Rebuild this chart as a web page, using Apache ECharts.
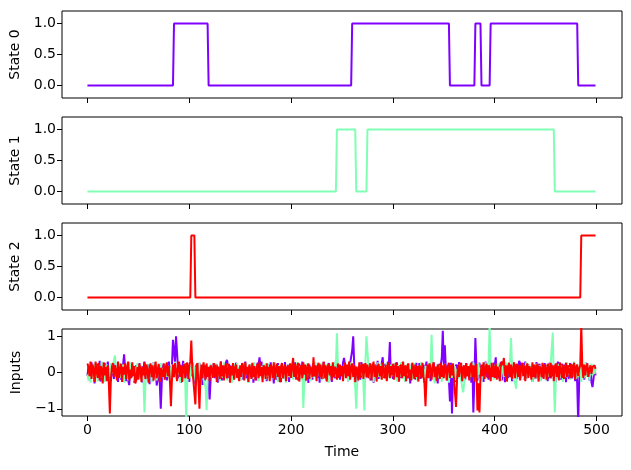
<!DOCTYPE html>
<html>
<head>
<meta charset="utf-8">
<title>States and inputs</title>
<script src="https://cdn.jsdelivr.net/npm/echarts@6/dist/echarts.min.js"></script>
<style>
  html, body { margin: 0; padding: 0; background: #fff; }
  #chart { width: 631px; height: 470px; }
</style>
</head>
<body>
<div id="chart"></div>
<script>
// state traces: [time, value] points where the level changes
var state0 = [[0,0],[84,0],[85,1],[118,1],[119,0],[259,0],[260,1],[355,1],[356,0],[380,0],[381,1],[386,1],[387,0],[395,0],[396,1],[481,1],[482,0],[499,0]];
var state1 = [[0,0],[244,0],[245,1],[263,1],[264,0],[274,0],[275,1],[458,1],[459,0],[499,0]];
var state2 = [[0,0],[101,0],[102,1],[105,1],[106,0],[484,0],[485,1],[499,1]];

// inputs, one value per time step (0..499)
var input0 = [
-.10,.18,-.22,.12,.28,-.08,.05,-.30,.20,-.12,.24,-.04,.32,-.25,.08,.16,-.15,.26,-.20,.06,.30,-.14,.10,-.24,.20,
.04,-.18,.28,-.10,.15,-.26,.22,.08,-.20,.12,.22,.50,.10,-.24,.18,-.20,-.35,.06,.24,-.12,.16,-.28,.10,.20,-.08,
-.16,.26,-.06,.18,-.28,.12,.30,-.20,.04,-.14,.22,-.32,.16,.08,-.24,.28,-.10,.15,-.36,-.18,.20,-.30,-1.00,-.26,.14,
.24,-.12,.16,-.22,.08,.30,-.18,.12,.20,.90,.95,.30,1.00,1.05,.10,-.16,.22,-.28,.10,.32,-.18,.06,.26,-.14,.15,
-.26,.18,-.10,.28,-.16,.12,-.32,.22,.04,-.20,.26,-.08,.16,-.34,.10,-.24,.20,-.15,.08,-.25,-.74,-.18,.15,-.12,.25,
-.16,.10,.22,-.28,.14,-.06,.30,-.22,.18,-.12,.08,.28,.35,.20,-.15,.20,-.26,.12,.24,-.18,.04,.27,-.13,.16,-.22,
.15,-.10,.26,-.20,.06,.30,-.16,.12,-.26,.18,.04,-.14,.24,-.28,.15,.08,-.22,.27,.20,.42,.10,.30,-.15,.20,-.08,
.16,-.24,.12,.22,-.15,.28,-.10,.06,-.30,.18,.14,-.20,.26,-.06,.15,-.27,.20,.10,-.16,.29,-.12,.04,.22,-.26,.13,
-.08,.20,-.18,.15,.28,-.13,.06,-.22,.24,.12,-.16,.30,-.10,.18,-.24,.08,.16,-.29,.22,-.04,.13,-.20,.26,-.12,.10,
.18,-.15,.24,-.28,.12,.04,-.18,.29,-.08,.16,-.22,.13,.26,-.12,.06,-.26,.20,.10,-.16,.32,-.13,.22,.08,-.20,.15,
-.10,.27,.40,.20,-.15,.18,-.24,.12,.26,.30,.60,1.00,.22,-.18,.13,-.26,.16,.06,-.20,.29,-.12,.15,.24,-.16,.10,
.20,-.13,.26,-.22,.08,.16,-.28,.12,.22,-.06,.32,-.18,.13,.04,.25,.42,-.15,.24,.10,-.12,.30,.20,.84,-.10,.15,
-.18,.22,-.12,.16,.28,-.24,.08,.20,-.15,.29,-.04,.13,-.26,.18,.10,-.16,.24,-.30,.12,.22,-.08,.16,-.20,.27,-.13,
.06,.26,-.18,.15,-.10,.22,-.28,.12,.30,-.16,.08,.20,-.24,.13,-.12,.27,.04,-.20,.16,-.30,.24,-.15,.20,.40,1.15,
.20,.75,.10,-.22,.18,-.20,-.80,.27,-1.13,-.18,.15,-.26,.22,.08,-.16,.29,-.12,.18,-.24,.13,.04,-.20,.26,-.10,.16,
-.15,.22,-.28,.30,-1.10,-.20,.95,.18,-.22,.12,.27,-.16,.08,.20,-.26,.15,.30,-.12,.18,-.20,.10,.24,-.13,.04,.27,
.18,.42,-.10,.22,-.16,.13,.29,-.22,.08,.16,-.27,.20,.12,-.15,.26,-.06,.18,-.24,.13,.27,-.12,.22,-.18,.10,.32,
.25,-.13,.16,.26,-.20,.30,.12,-.16,.22,.22,-.10,.15,-.26,.20,.08,-.18,.29,-.13,.16,.24,-.22,.10,.18,-.15,.26,
-.10,.20,-.24,.13,.27,-.16,.06,.22,-.12,.18,-.26,.15,.30,-.08,.16,-.20,.24,.10,-.15,.22,-.27,.13,.04,-.18,.26,
.12,-.16,.20,.08,-.24,.15,-.30,-1.40,-.20,.18,-.13,.22,.10,-.20,.16,.27,-.12,.06,-.22,.15,-.27,-.40,-.18,.10,-.08
];
var input1 = [
-.05,-.22,.15,-.28,.06,.20,-.16,.27,-.12,.04,-.25,.20,.10,-.15,.30,-.08,.16,-.26,.13,.22,-.18,.08,-.13,.25,-.04,
.18,.20,.47,.10,-.20,.15,-.12,.26,-.16,.06,.22,-.28,.13,-.08,.18,-.22,.12,.28,-.15,.04,.20,-.24,.16,-.10,.26,
-.13,.08,.22,-.18,.15,-.20,-1.10,-.28,.12,.24,-.16,.04,.20,-.26,.13,.28,-.10,.16,-.22,.08,.18,-.15,.26,-.06,.12,
-.20,.15,.24,-.12,.04,.18,-.26,.10,.22,-.15,.08,.29,-.18,.13,-.06,.20,-.28,.12,.16,-.22,.26,-.25,-1.30,-.28,.10,
.22,-.16,.12,.26,-.08,.18,-.24,.15,.06,-.20,.28,-.13,.10,.20,-.20,-.30,-.40,-1.04,-.18,.16,-.12,.24,-.15,.08,.20,
-.10,.26,-.18,.13,.04,-.24,.20,.12,-.15,.28,-.08,.16,-.22,.10,.24,-.13,.18,-.28,.06,.22,-.16,.12,.26,-.20,.15,
.08,-.22,.18,.12,-.15,.26,-.06,.16,-.29,.13,.22,-.10,.06,-.18,.28,-.13,.15,.20,-.24,.10,-.04,.18,-.16,.24,.12,
-.20,.15,.26,-.12,.06,-.22,.18,.10,-.16,.29,-.08,.13,-.26,.20,.04,-.15,.24,-.18,.12,.16,-.28,.08,.22,-.13,.18,
-.06,.24,-.20,.13,.10,-.16,.28,-.12,.18,.04,-.22,.15,-.98,-.30,.20,-.13,.26,-.08,.16,-.24,.12,.22,-.15,.06,.28,
-.18,.13,.20,-.10,.26,-.22,.08,.16,-.15,.24,-.06,.18,-.28,.12,.22,-.16,.10,.28,-.12,.20,1.08,.15,-.13,.20,-.08,
.16,-.22,.12,.26,-.10,.18,-.24,.13,.04,.28,-.15,.20,-.20,-.40,-1.00,-.18,.15,-.12,.22,-.08,.16,-.28,-1.05,.30,1.00,
.95,.18,-.15,.22,-.10,.13,-.26,.20,.06,-.16,.28,-.12,.15,.24,-.20,.08,.18,-.13,.26,-.22,.12,.04,-.18,.22,-.10,
.15,.26,-.16,.10,-.24,.20,.13,-.12,.28,-.18,.06,.16,-.26,.22,-.08,.12,.24,-.15,.18,-.20,.10,.26,-.13,.04,-.22,
.20,-.10,.16,.28,-.15,.08,-.24,.18,.12,-.18,.26,-.06,.20,1.04,.15,-.10,-.30,.15,-.12,.22,-.16,.10,.20,-.26,.13,
-.08,.24,-.18,.12,.16,-.28,.20,.06,-.15,.26,-.12,.18,-.22,.10,.15,-.16,.22,-.20,-.40,-.55,-.30,.13,-.10,.20,.08,
-.18,.24,-.12,.15,.28,-.22,.08,.18,-.16,.26,-.06,.13,-.24,.20,.12,-.15,.28,.10,.15,.30,1.30,.20,-.13,.18,-.20,
.10,.22,-.15,.26,-.08,.16,-.24,.13,.20,-.12,.06,.28,-.18,.15,.15,.30,.95,.18,-.15,-.20,-.30,-.45,.22,-.10,.15,
.18,-.13,.24,.08,-.20,.15,.28,-.16,.12,.22,-.08,.18,-.26,.13,.04,-.18,.24,.10,-.15,.20,-.24,.12,.26,-.10,.16,
-.22,.13,.20,-.12,.08,.26,.30,1.10,-.20,-1.10,-.18,.15,-.10,.24,-.16,.12,.20,-.26,.08,.18,-.13,.28,-.06,.15,-.20,
.22,-.10,.16,.30,.12,-.18,.24,-.13,.08,.20,-.26,.15,.04,-.16,.28,-.12,.18,.10,-.22,.13,.24,-.08,.16,-.04,.10
];
var input2 = [
.25,.15,-.10,.30,-.18,.22,.08,-.26,.30,.04,-.15,.26,-.22,.18,.10,-.30,.28,-.08,.16,-.24,.20,-.30,-1.13,-.18,.15,
.26,-.12,.20,.04,-.22,.30,-.15,.10,.24,-.26,.16,-.06,.25,-.18,.13,.30,-.22,.08,-.16,.28,-.10,.18,-.30,-.20,.15,
-.20,.24,.10,-.26,.16,-.08,.28,-.18,.22,.06,-.28,.15,.25,-.13,.20,-.22,.10,.30,-.16,.04,.24,-.26,.13,.18,-.12,
.25,-.20,.15,.28,-.10,.18,-.25,-.93,-.18,.22,-.13,.26,.08,-.24,.16,.30,-.12,.20,-.26,.13,.24,-.16,.10,.28,-.18,
.18,.30,.88,.10,-.22,-.20,-.88,.15,.26,-.30,-1.00,-.10,.22,-.16,.28,.06,-.20,.25,-.12,.16,-.24,.20,.10,-.15,.26,
-.13,.22,-.26,.16,.08,-.18,.30,-.10,.20,-.22,.15,.25,-.16,.06,.24,-.28,.18,-.08,.26,-.20,.13,.22,-.15,.10,-.24,
.20,-.12,.26,.15,-.22,.28,-.06,.16,-.26,.22,.10,-.18,.27,-.13,.18,-.22,.08,.24,-.16,.30,-.10,.15,-.27,.20,.12,
-.18,.25,-.08,.16,-.24,.22,.13,-.15,.28,-.20,.10,.24,-.12,.18,-.27,.15,.26,-.16,.08,.22,-.24,.13,.20,-.10,.25,
-.15,.18,.40,-.12,.24,-.20,.15,.27,-.25,.10,.20,-.16,.28,-.06,.22,-.22,.13,.25,-.18,.16,.08,-.13,.42,-.10,.20,
-.24,.15,.27,-.12,.22,-.18,.10,.30,-.16,.20,-.25,.13,.24,-.08,.18,-.22,.28,-.13,.16,.06,-.20,.25,-.15,.22,-.10,
.18,-.24,.13,.27,-.16,.22,-.10,.30,-.20,.15,.25,-.12,.20,-.27,.16,.08,-.22,.28,-.15,.18,.24,-.18,.12,.26,-.13,
.22,-.16,.10,.25,-.22,.16,.30,-.12,.20,-.25,.15,.24,-.10,.18,-.20,.27,.06,-.16,.22,-.24,.13,.28,-.15,.18,-.08,
.24,-.20,.15,.27,-.13,.18,-.25,.12,.22,-.16,.30,-.10,.20,-.24,.16,.25,-.15,.08,-.22,.27,.13,-.18,.22,-.12,.18,
-.25,.20,.13,-.16,.27,-.10,-.30,-.93,-.18,.22,-.15,.25,.10,-.20,.18,.28,-.13,.16,-.24,.22,.08,-.18,.27,-.12,.20,
-.16,.24,.12,-.22,.18,.27,-.15,.20,-.08,.25,-.20,-.25,-.95,-.18,.22,-.12,.16,.27,-.24,.13,.20,-.16,.25,-.10,.18,
-.22,.15,.27,-.13,.20,-.25,.16,.24,-1.05,-.30,-1.10,-.15,.22,-.10,.28,-.18,.13,.24,-.16,.20,.08,-.24,.27,-.12,.18,
-.15,.25,-.20,.16,.12,-.24,.22,.30,.20,.40,-.10,.20,-.25,.15,.27,-.13,.22,-.18,.10,.28,-.16,.18,.24,-.12,.20,
-.22,.16,.27,-.10,.20,-.24,.13,.25,-.15,.18,.08,-.20,.28,-.12,.22,-.16,.15,.24,-.25,.18,.10,-.13,.27,-.18,.22,
.12,-.20,.24,.15,-.16,.27,-.10,.20,-.24,.16,.25,-.13,.18,-.22,.28,.08,-.15,.22,-.18,.13,.27,-.12,.20,.06,-.16,
.24,-.13,.18,.27,-.20,.15,.22,-.10,.10,.20,1.30,.18,-.15,.22,-.08,.16,.25,-.12,.06,.20,-.04,.15,.10,.20,.10
];

var colors = ['#8000ff', '#80ffb4', '#ff0000'];
var stateNames = ['State 0', 'State 1', 'State 2'];
var xTicks = [0, 100, 200, 300, 400, 500];

var FONT = 'DejaVu Sans';
var tops = [11, 117, 223, 329];
var H = 87;

function toPairs(arr) {
  return arr.map(function (v, i) { return [i, v]; });
}

var grids = [], xAxes = [], yAxes = [], series = [];
tops.forEach(function (t, i) {
  grids.push({ left: 62, right: 9, top: t, height: H, show: true,
    borderColor: '#000', borderWidth: 1, backgroundColor: 'transparent' });
  var last = i === 3;
  xAxes.push({
    gridIndex: i, type: 'value', min: -25, max: 525, position: 'bottom',
    axisLine: { show: false, onZero: false },
    axisTick: { show: true, length: 5, inside: false, customValues: xTicks, lineStyle: { color: '#000' } },
    axisLabel: { show: last, customValues: xTicks, color: '#000', fontFamily: FONT, fontSize: 14, margin: 7 },
    splitLine: { show: false },
    name: last ? 'Time' : '', nameLocation: 'middle', nameGap: 29,
    nameTextStyle: { color: '#000', fontFamily: FONT, fontSize: 14 }
  });
  var yTicks = last ? [-1, 0, 1] : [0, 0.5, 1];
  yAxes.push({
    gridIndex: i, type: 'value', position: 'left',
    min: last ? -1.2 : -0.2, max: 1.2,
    axisLine: { show: false, onZero: false },
    axisTick: { show: true, length: 5, inside: false, customValues: yTicks, lineStyle: { color: '#000' } },
    axisLabel: { customValues: yTicks, color: '#000', fontFamily: FONT, fontSize: 14, margin: 6,
      formatter: function (v) {
        if (last) return v < 0 ? '\u2212' + Math.abs(v) : String(v);
        return v.toFixed(1);
      } },
    splitLine: { show: false },
    name: last ? 'Inputs' : stateNames[i], nameLocation: 'middle', nameGap: 39,
    nameTextStyle: { color: '#000', fontFamily: FONT, fontSize: 14 }
  });
});

[state0, state1, state2].forEach(function (d, i) {
  series.push({ type: 'line', xAxisIndex: i, yAxisIndex: i, data: d, showSymbol: false,
    lineStyle: { color: colors[i], width: 2 }, itemStyle: { color: colors[i] } });
});
[input0, input1, input2].forEach(function (d, i) {
  series.push({ type: 'line', xAxisIndex: 3, yAxisIndex: 3, data: toPairs(d), showSymbol: false,
    clip: true, lineStyle: { color: colors[i], width: 2 }, itemStyle: { color: colors[i] } });
});

var chart = echarts.init(document.getElementById('chart'));
chart.setOption({
  animation: false,
  backgroundColor: '#fff',
  grid: grids, xAxis: xAxes, yAxis: yAxes, series: series
});
</script>
</body>
</html>
